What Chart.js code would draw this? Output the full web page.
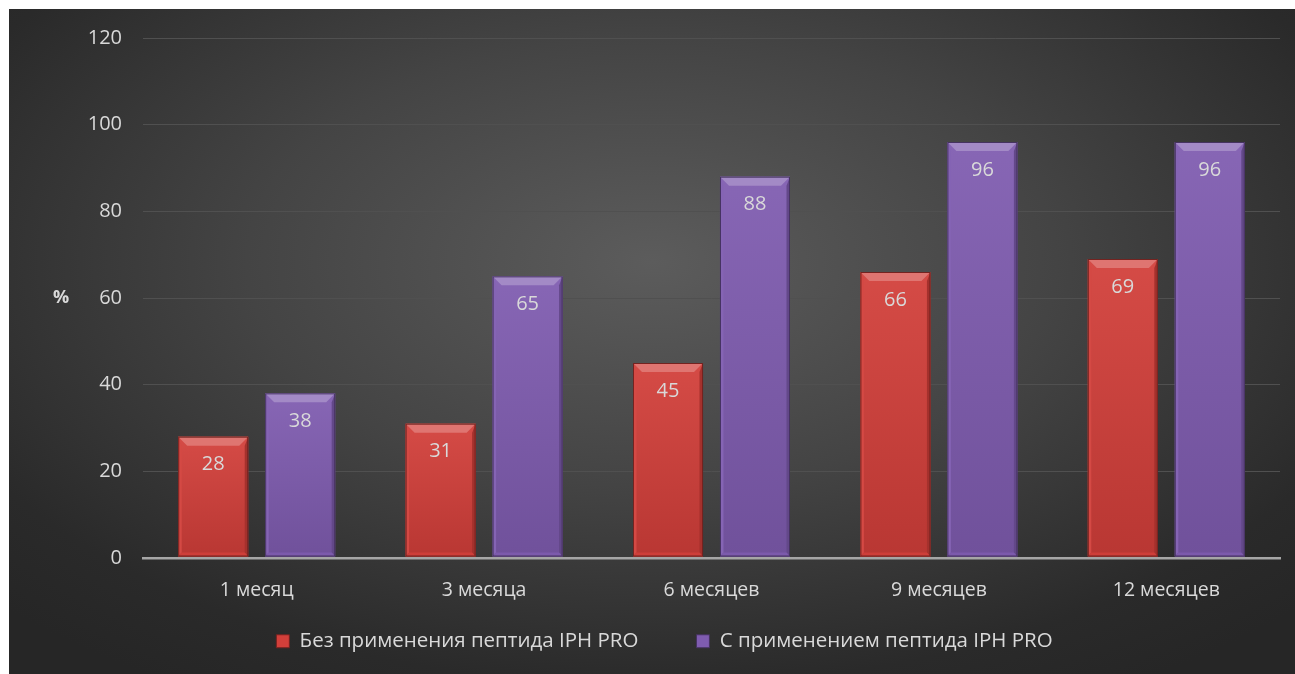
<!DOCTYPE html>
<html>
<head>
<meta charset="utf-8">
<script src="https://cdn.jsdelivr.net/npm/chart.js@4"></script>
<style>
  html, body { margin: 0; padding: 0; background: #ffffff; }
  #wrap {
    position: absolute; left: 9px; top: 9px; width: 1286px; height: 665px;
    background: radial-gradient(ellipse 70% 75% at 50% 38%, #5c5c5c 0%, #444444 45%, #2a2a2a 85%, #262626 100%);
  }
  canvas { display: block; }
</style>
</head>
<body>
<div id="wrap"><canvas id="c" width="1286" height="665"></canvas></div>
<script>
// Period labels along the category axis
const categories = ['1 месяц', '3 месяца', '6 месяцев', '9 месяцев', '12 месяцев'];
// Share of patients, %
const withoutPeptide = [28, 31, 45, 66, 69];
const withPeptide = [38, 65, 88, 96, 96];
const seriesNames = ['Без применения пептида IPH PRO', 'С применением пептида IPH PRO'];
const yTicks = [0, 20, 40, 60, 80, 100, 120];
const axisTitle = '%';

const FONT = '"Open Sans", Lato, sans-serif';
const TEXT = '#d9d9d9';

function shade(hex, amt) {
  const n = parseInt(hex.slice(1), 16);
  let r = (n >> 16) & 255, g = (n >> 8) & 255, b = n & 255;
  const f = v => Math.max(0, Math.min(255, Math.round(amt >= 0 ? v + (255 - v) * amt : v * (1 + amt))));
  return 'rgb(' + f(r) + ',' + f(g) + ',' + f(b) + ')';
}

const palette = ['#d23f3a', '#7f5cb0'];

// Bevelled bar faces plus value labels inside the top of each bar
const bevelPlugin = {
  id: 'bevel',
  afterDatasetsDraw(chart) {
    const ctx = chart.ctx;
    chart.data.datasets.forEach((ds, di) => {
      const meta = chart.getDatasetMeta(di);
      const base = palette[di];
      meta.data.forEach((bar, i) => {
        const p = bar.getProps(['x', 'y', 'width', 'base'], true);
        const l = p.x - p.width / 2, r = p.x + p.width / 2, t = p.y, b = p.base - 1;
        const bv = 9, sv = 3.5, bb = 4;
        ctx.save();
        const g = ctx.createLinearGradient(0, t, 0, b);
        g.addColorStop(0, shade(base, 0.06));
        g.addColorStop(1, shade(base, -0.12));
        ctx.fillStyle = g;
        ctx.fillRect(l, t, r - l, b - t);
        // top bevel
        ctx.beginPath();
        ctx.moveTo(l, t); ctx.lineTo(r, t); ctx.lineTo(r - bv, t + bv); ctx.lineTo(l + bv, t + bv); ctx.closePath();
        ctx.fillStyle = shade(base, 0.28);
        ctx.fill();
        // left bevel
        ctx.beginPath();
        ctx.moveTo(l, t); ctx.lineTo(l + sv, t + bv); ctx.lineTo(l + sv, b - bb); ctx.lineTo(l, b); ctx.closePath();
        ctx.fillStyle = shade(base, 0.05);
        ctx.fill();
        // right bevel
        ctx.beginPath();
        ctx.moveTo(r, t); ctx.lineTo(r - sv, t + bv); ctx.lineTo(r - sv, b - bb); ctx.lineTo(r, b); ctx.closePath();
        ctx.fillStyle = shade(base, -0.22);
        ctx.fill();
        // bottom bevel
        ctx.beginPath();
        ctx.moveTo(l, b); ctx.lineTo(r, b); ctx.lineTo(r - sv, b - bb); ctx.lineTo(l + sv, b - bb); ctx.closePath();
        ctx.fillStyle = shade(base, -0.02);
        ctx.fill();
        // outline
        ctx.strokeStyle = shade(base, -0.45);
        ctx.lineWidth = 1;
        ctx.strokeRect(l + 0.5, t + 0.5, r - l - 1, b - t - 1);
        // value label
        ctx.fillStyle = TEXT;
        ctx.font = '20px ' + FONT;
        ctx.textAlign = 'center';
        ctx.textBaseline = 'middle';
        ctx.fillText(String(ds.data[i]), p.x, t + 28);
        ctx.restore();
      });
    });
    // axis title, unrotated
    const ya = chart.scales.y;
    ctx.save();
    ctx.fillStyle = TEXT;
    ctx.font = 'bold 18px ' + FONT;
    ctx.textAlign = 'center';
    ctx.textBaseline = 'middle';
    ctx.fillText(axisTitle, 52, (ya.top + ya.bottom) / 2);
    ctx.restore();
  }
};

new Chart(document.getElementById('c'), {
  type: 'bar',
  data: {
    labels: categories,
    datasets: [
      { label: seriesNames[0], data: withoutPeptide, backgroundColor: 'rgba(0,0,0,0)', borderWidth: 0 },
      { label: seriesNames[1], data: withPeptide, backgroundColor: 'rgba(0,0,0,0)', borderWidth: 0 }
    ]
  },
  options: {
    responsive: false,
    animation: false,
    events: [],
    categoryPercentage: 0.765,
    barPercentage: 0.805,
    layout: { padding: { left: 40, right: 15, top: 29, bottom: 12.5 } },
    plugins: {
      tooltip: { enabled: false },
      legend: {
        position: 'bottom',
        labels: {
          color: TEXT,
          font: { family: FONT, size: 20.5 },
          boxWidth: 13,
          boxHeight: 13,
          padding: 58,
          generateLabels(chart) {
            return chart.data.datasets.map((ds, i) => ({
              text: ds.label,
              fillStyle: palette[i],
              strokeStyle: shade(palette[i], -0.45),
              lineWidth: 1,
              fontColor: TEXT,
              datasetIndex: i
            }));
          }
        }
      }
    },
    scales: {
      x: {
        afterFit(scale) {
          scale.height = 15;
          // let the period labels extend below the thin axis box
          scale._computeLabelArea = () => undefined;
        },
        grid: { display: false, drawTicks: false },
        border: { display: true, color: '#a6a6a6', width: 2.5 },
        ticks: { color: TEXT, font: { family: FONT, size: 19.5 }, padding: 21 }
      },
      y: {
        min: 0, max: 120,
        afterBuildTicks(scale) { scale.ticks = yTicks.map(v => ({ value: v })); },
        afterFit(scale) {
          scale.width = 94;
          // top of the plot is set by the layout padding alone
          scale.paddingTop = 0;
        },
        grid: { color: '#505050', lineWidth: 1, drawTicks: false },
        border: { display: false },
        ticks: { color: TEXT, font: { family: FONT, size: 20 }, padding: 21 }
      }
    }
  },
  plugins: [bevelPlugin]
});
</script>
</body>
</html>
